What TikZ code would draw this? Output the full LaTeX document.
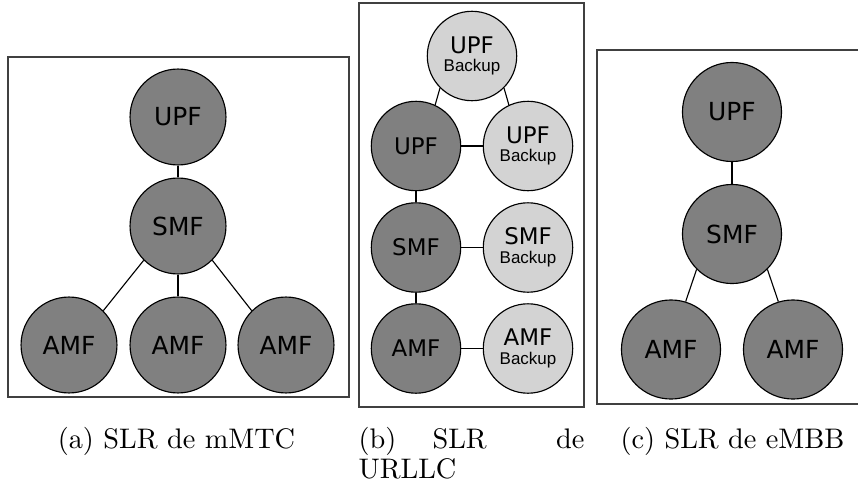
\documentclass[tikz,border=0pt]{standalone}
\usepackage{fontspec}
\newfontfamily\nodesans{DejaVu Sans}
\newfontfamily\backupsans{Liberation Sans}
\definecolor{nfdark}{HTML}{808080}
\definecolor{nflight}{HTML}{D3D3D3}
\definecolor{framegray}{HTML}{404040}
\tikzset{
  nf/.style={circle, draw=black, line width=0.4pt, inner sep=0pt, text=black},
  nfmain/.style={nf, fill=nfdark},
  nfbak/.style={nf, fill=nflight, align=center},
  sizea/.style={minimum size=33.9pt, font=\nodesans\fontsize{8.8}{10}\selectfont},
  sizeb/.style={minimum size=31.6pt, font=\nodesans\fontsize{8.1}{6.6}\selectfont},
  sizec/.style={minimum size=35pt, font=\nodesans\fontsize{8.8}{10}\selectfont},
  link/.style={draw=black, line width=0.4pt},
  panel/.style={draw=framegray, line width=0.65pt},
  captext/.style={inner sep=0pt, font=\fontsize{10}{12}\selectfont}
}
\newcommand{\bkp}{{\backupsans\fontsize{6}{6.6}\selectfont Backup}}
\begin{document}
\begin{tikzpicture}[x=0.3534pt, y=-0.3534pt]
\useasboundingbox (0,0) rectangle (858,487);

% (a) mMTC slice: one UPF, one SMF, three AMFs
\draw[panel] (8,57) rectangle (349,397);
\node[nfmain,sizea] (aupf)  at (178,117) {UPF};
\node[nfmain,sizea] (asmf)  at (178,226) {SMF};
\node[nfmain,sizea] (aamf1) at (69,345)  {AMF};
\node[nfmain,sizea] (aamf2) at (178,345) {AMF};
\node[nfmain,sizea] (aamf3) at (286,345) {AMF};
\draw[link] (aupf) -- (asmf);
\draw[link] (asmf.225) -- (aamf1.45);
\draw[link] (asmf) -- (aamf2);
\draw[link] (asmf.315) -- (aamf3.135);
\node[captext, anchor=base] (capa) at (176.5,448) {(a) SLR de mMTC};

% (b) URLLC slice: every function has a backup
\draw[panel] (359,3) rectangle (584,407);
\node[nfbak,sizeb] (btop)  at (472,56)    {UPF\\\bkp};
\node[nfmain,sizeb] (bupf)  at (416,146)  {UPF};
\node[nfbak,sizeb] (bupfb) at (528,146)   {UPF\\\bkp};
\node[nfmain,sizeb] (bsmf)  at (416,247.5) {SMF};
\node[nfbak,sizeb] (bsmfb) at (528,247.5) {SMF\\\bkp};
\node[nfmain,sizeb] (bamf)  at (416,348.5) {AMF};
\node[nfbak,sizeb] (bamfb) at (528,348.5) {AMF\\\bkp};
\draw[link] (btop.225) -- (bupf.65);
\draw[link] (btop.315) -- (bupfb.115);
\draw[link] (bupf) -- (bupfb);
\draw[link] (bsmf) -- (bsmfb);
\draw[link] (bamf) -- (bamfb);
\draw[link] (bupf) -- (bsmf);
\draw[link] (bsmf) -- (bamf);
\node[captext, anchor=base west] (capb1) at (358,448) {(b)};
\node[captext, anchor=base west] (capb2) at (432,448) {SLR};
\node[captext, anchor=base east] (capb3) at (585,448) {de};
\node[captext, anchor=base west] (capb4) at (358,478) {URLLC};

% (c) eMBB slice: one UPF, one SMF, two AMFs
\draw[panel] (858,50) -- (597,50) -- (597,404) -- (858,404);
\node[nfmain,sizec] (cupf)  at (732,112)   {UPF};
\node[nfmain,sizec] (csmf)  at (732,234)   {SMF};
\node[nfmain,sizec] (camf1) at (671,349.5) {AMF};
\node[nfmain,sizec] (camf2) at (793,349.5) {AMF};
\draw[link] (cupf) -- (csmf);
\draw[link] (csmf.225) -- (camf1.73);
\draw[link] (csmf.315) -- (camf2.107);
\node[captext, anchor=base] (capc) at (732.5,448) {(c) SLR de eMBB};
\end{tikzpicture}
\end{document}
